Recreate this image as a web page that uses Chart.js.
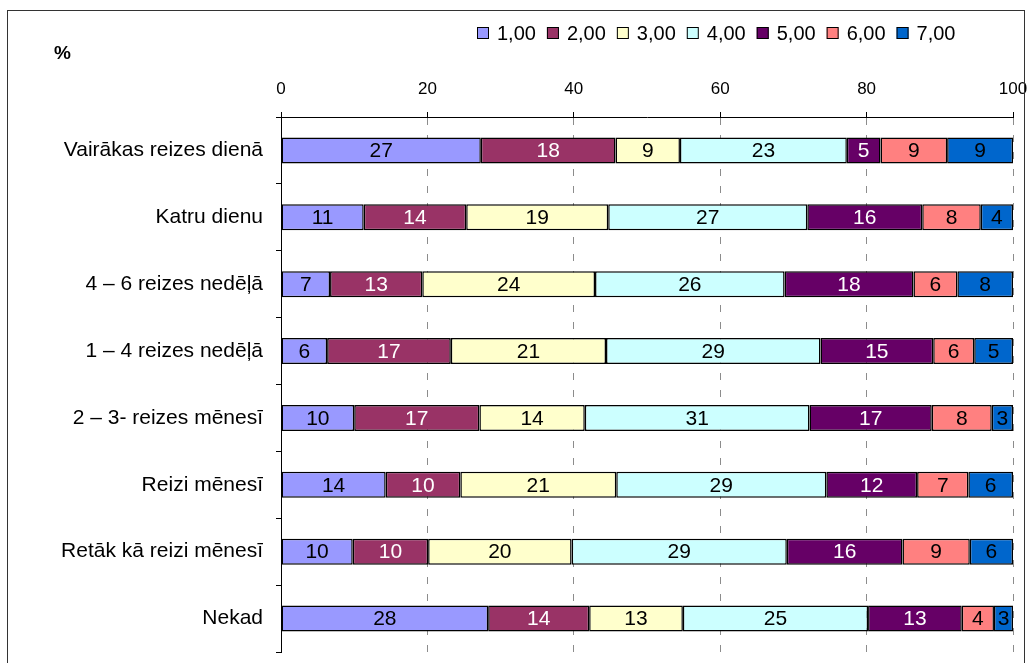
<!DOCTYPE html>
<html>
<head>
<meta charset="utf-8">
<script src="https://cdn.jsdelivr.net/npm/chart.js@4.4.1/dist/chart.umd.min.js"></script>
<style>
  html, body { margin: 0; padding: 0; background: #fff; overflow: hidden; }
  #wrap { position: relative; width: 1029px; height: 663px; }
  #frame { position: absolute; left: 7px; top: 10px; width: 1016px; height: 720px;
           border: 1px solid #333; pointer-events: none; }
  #unit { position: absolute; left: 54px; top: 42px; font: bold 19px "Liberation Sans", Arial, sans-serif; color: #000; }
  canvas { position: absolute; left: 0; top: 0; }
</style>
</head>
<body>
<div id="wrap">
  <canvas id="chart" width="1029" height="663"></canvas>
  <div id="frame"></div>
  <div id="unit">%</div>
</div>
<script>
// Frequency categories (rows, top to bottom)
const categories = [
  'Vairākas reizes dienā',
  'Katru dienu',
  '4 – 6 reizes nedēļā',
  '1 – 4 reizes nedēļā',
  '2 – 3- reizes mēnesī',
  'Reizi mēnesī',
  'Retāk kā reizi mēnesī',
  'Nekad'
];

// Legend names of the answer groups
const seriesNames = ['1,00', '2,00', '3,00', '4,00', '5,00', '6,00', '7,00'];

// Share of each answer group per row, %
const s1 = [27.3, 11.3, 6.7, 6.3, 10.0, 14.3, 9.8, 28.3];
const s2 = [18.4, 14.0, 12.6, 16.9, 17.1, 10.2, 10.3, 13.8];
const s3 = [8.8, 19.4, 23.6, 21.2, 14.4, 21.3, 19.6, 12.8];
const s4 = [22.8, 27.2, 25.9, 29.3, 30.7, 28.7, 29.4, 25.3];
const s5 = [4.6, 15.7, 17.6, 15.4, 16.7, 12.4, 15.8, 12.8];
const s6 = [9.1, 8.0, 6.0, 5.6, 8.2, 7.0, 9.2, 4.4];
const s7 = [9.0, 4.4, 7.6, 5.3, 2.9, 6.1, 5.9, 2.6];

// Axis ticks along the percentage scale
const xTicks = [0, 20, 40, 60, 80, 100];

const seriesValues = [s1, s2, s3, s4, s5, s6, s7];
const fillColors = ['#9999FF', '#993366', '#FFFFCC', '#CCFFFF', '#660066', '#FF8080', '#0066CC'];
const labelColors = ['#000', '#fff', '#000', '#000', '#fff', '#000', '#000'];

const FONT = '"Liberation Sans", Arial, sans-serif';

const datasets = seriesValues.map((vals, i) => ({
  label: seriesNames[i],
  data: vals,
  backgroundColor: fillColors[i],
  borderColor: '#000',
  borderWidth: 1.5,
  borderSkipped: false,
  barPercentage: 0.39,
  categoryPercentage: 1.0
}));

// Writes the rounded value in the middle of every segment
const segmentLabels = {
  id: 'segmentLabels',
  afterDatasetsDraw(chart) {
    const ctx = chart.ctx;
    ctx.save();
    ctx.font = '21px ' + FONT;
    ctx.textAlign = 'center';
    ctx.textBaseline = 'middle';
    chart.data.datasets.forEach((ds, di) => {
      const meta = chart.getDatasetMeta(di);
      meta.data.forEach((el, j) => {
        const v = ds.data[j];
        const cx = (el.x + el.base) / 2;
        ctx.fillStyle = labelColors[di];
        ctx.fillText(String(Math.round(v)), cx, el.y + 1);
      });
    });
    ctx.restore();
  }
};

// Single-row legend above the plot, right of centre
const rowLegend = {
  id: 'rowLegend',
  afterDraw(chart) {
    const ctx = chart.ctx;
    ctx.save();
    ctx.font = '20px ' + FONT;
    ctx.textBaseline = 'middle';
    ctx.textAlign = 'left';
    let x = 477;
    const yc = 33;
    const box = 12;
    chart.data.datasets.forEach((ds) => {
      ctx.fillStyle = ds.backgroundColor;
      ctx.fillRect(x, yc - box / 2, box, box);
      ctx.strokeStyle = '#000';
      ctx.lineWidth = 1;
      ctx.strokeRect(x + 0.5, yc - box / 2 + 0.5, box - 1, box - 1);
      ctx.fillStyle = '#000';
      const tx = x + box + 8;
      ctx.fillText(ds.label, tx, yc + 1);
      x = tx + ctx.measureText(ds.label).width + 11;
    });
    ctx.restore();
  }
};

new Chart(document.getElementById('chart'), {
  type: 'bar',
  data: { labels: categories, datasets },
  options: {
    indexAxis: 'y',
    responsive: false,
    devicePixelRatio: 1,
    animation: false,
    layout: { padding: { left: 10, right: 16, top: 60, bottom: 11 } },
    plugins: {
      legend: { display: false },
      tooltip: { enabled: false }
    },
    scales: {
      x: {
        position: 'top',
        stacked: true,
        min: 0,
        max: 100,
        afterBuildTicks(scale) { scale.ticks = xTicks.map(v => ({ value: v })); },
        ticks: {
          color: '#000',
          font: { family: FONT, size: 17 },
          padding: 12,
          maxRotation: 0
        },
        grid: {
          color: '#8c8c8c',
          lineWidth: 1,
          borderDash: [7, 10],
          tickLength: 5,
          tickColor: '#000',
          tickBorderDash: []
        },
        border: { display: true, color: '#000', width: 1, dash: [7, 10] },
        afterFit(scale) {
          scale.height = 57;
          scale.paddingLeft = 0;
          scale.paddingRight = 0;
        }
      },
      y: {
        stacked: true,
        ticks: {
          color: '#000',
          font: { family: FONT, size: 21 },
          padding: 13
        },
        grid: {
          offset: true,
          drawOnChartArea: false,
          drawTicks: true,
          tickLength: 5,
          tickColor: '#000',
          color: '#000'
        },
        border: { display: true, color: '#000', width: 1 },
        afterFit(scale) {
          scale.width = 271;
          scale.paddingTop = 0;
          scale.paddingBottom = 0;
        }
      }
    }
  },
  plugins: [segmentLabels, rowLegend]
});
</script>
</body>
</html>
